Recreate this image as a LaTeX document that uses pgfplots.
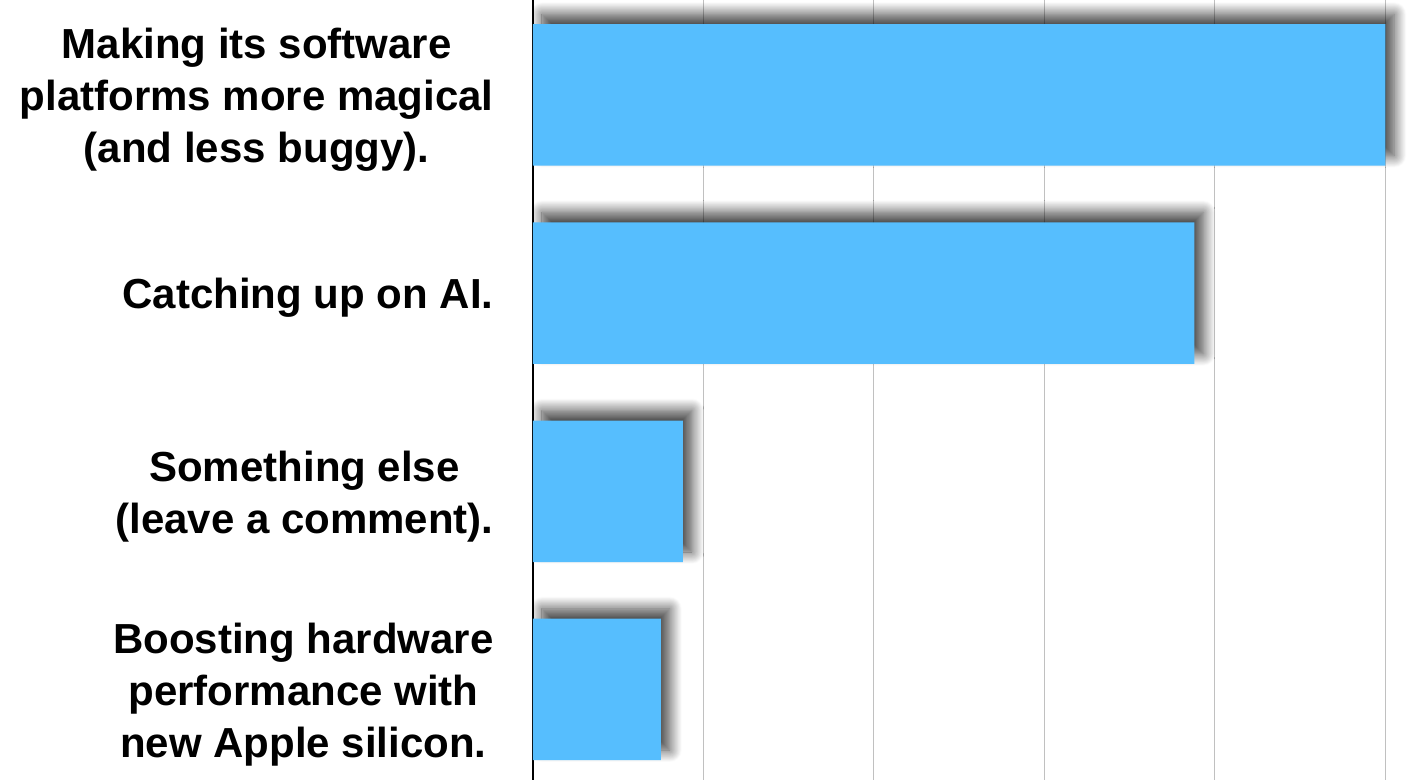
\documentclass[border=0pt]{standalone}
\usepackage{pgfplots}
\pgfplotsset{compat=1.18}
\usepackage{pgfplotstable}
\usetikzlibrary{shadows.blur}
\usepackage{fontspec}
\setmainfont{Liberation Sans}
\definecolor{barblue}{RGB}{86,190,254}
\definecolor{gridgray}{RGB}{192,192,192}
\pgfplotstableread{
y val
4 50.0
3 38.8
2 8.8
1 7.5
}\data
\begin{document}
\begin{tikzpicture}
\begin{axis}[
  scale only axis,
  width=441.5pt, height=390pt,
  xmin=0, xmax=51.8,
  ymin=0.543, ymax=4.479,
  axis lines=left,
  axis line style={-},
  separate axis lines,
  x axis line style={draw=none},
  y axis line style={black, line width=1.2pt},
  xtick={0,10,20,30,40,50},
  xticklabels={},
  xmajorgrids,
  major grid style={gridgray, line width=0.5pt},
  major tick length=0pt,
  ytick={1,2,3,4},
  yticklabels={{Boosting hardware\\performance with\\new Apple silicon.},
               {Something else\\(leave a comment).},
               {Catching up on AI.},
               {Making its software\\platforms more magical\\(and less buggy).}},
  yticklabel style={anchor=east, inner sep=0pt, xshift=-19.5pt, yshift=-2.5pt, align=center,
     font=\fontsize{21}{26}\selectfont\bfseries},
  tick style={draw=none},
]
\addplot[xbar, bar width=0.714, fill=barblue, draw=none,
  blur shadow={shadow xshift=4.5pt, shadow yshift=5pt, shadow blur radius=6pt, shadow blur steps=16, shadow opacity=75}] table[x=val,y=y]{\data};
\coordinate (bl) at (rel axis cs:0,0);
\coordinate (tr) at (rel axis cs:1,1);
\end{axis}
\pgfresetboundingbox
\path[use as bounding box] ([xshift=-266.5pt]bl) rectangle (tr);
\end{tikzpicture}
\end{document}
